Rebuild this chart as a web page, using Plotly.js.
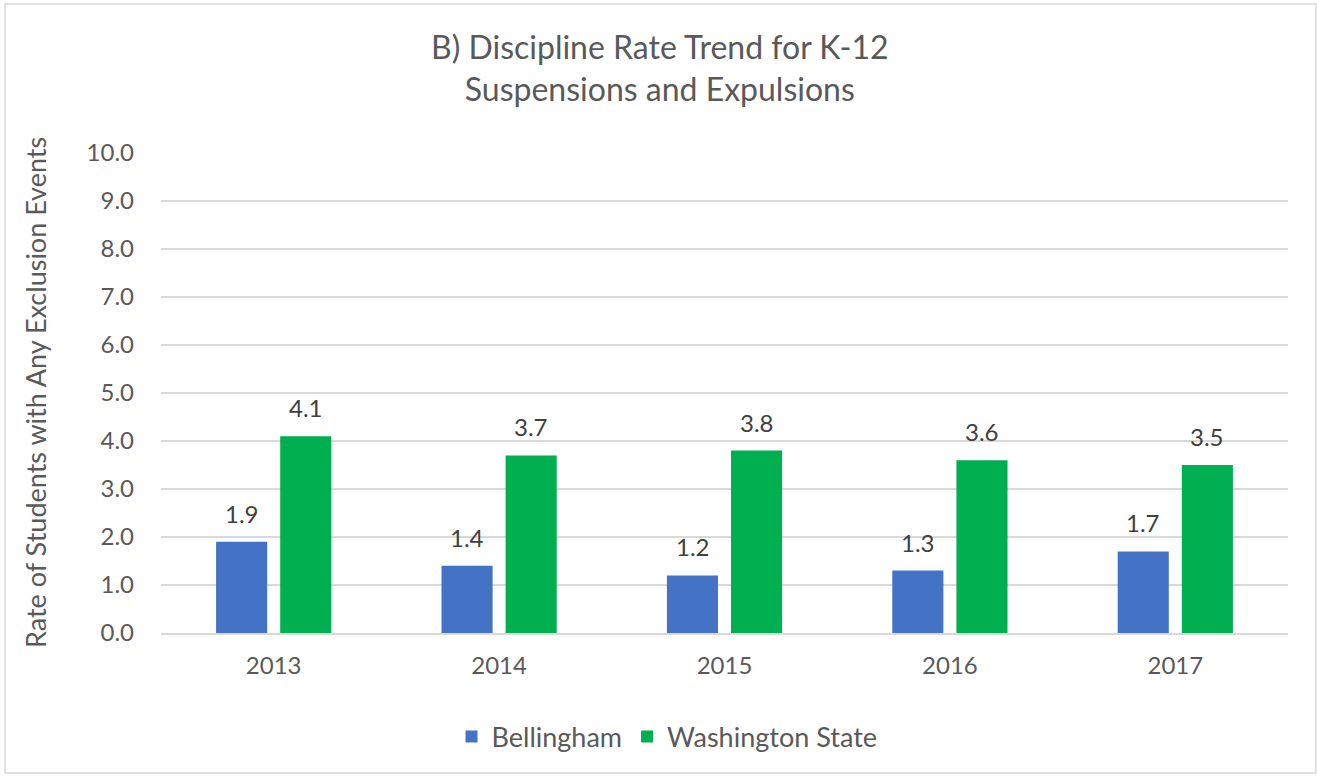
<!DOCTYPE html>
<html>
<head>
<meta charset="utf-8">
<script src="https://cdn.plot.ly/plotly-3.0.1.min.js"></script>
<style>
  html, body { margin: 0; padding: 0; background: #fff; }
  #chart { width: 1317px; height: 776px; }
</style>
</head>
<body>
<div id="chart"></div>
<script>
const years = ['2013', '2014', '2015', '2016', '2017'];
const bellingham = [1.9, 1.4, 1.2, 1.3, 1.7];
const washington = [4.1, 3.7, 3.8, 3.6, 3.5];
const yTicks = [0, 1, 2, 3, 4, 5, 6, 7, 8, 9, 10];

const FONT = 'Lato, "Open Sans", sans-serif';
const LABEL_FONT = { family: FONT, size: 24, color: '#404040' };

const traces = [
  {
    type: 'bar', name: 'Bellingham', x: years, y: bellingham,
    marker: { color: '#4472C4' }, hoverinfo: 'x+y'
  },
  {
    type: 'bar', name: 'Washington State', x: years, y: washington,
    marker: { color: '#00B050' }, hoverinfo: 'x+y'
  }
];

const labelAnn = [];
years.forEach((yr, i) => {
  labelAnn.push({ x: i, y: bellingham[i], text: bellingham[i].toFixed(1), xref: 'x', yref: 'y',
    xshift: -32, yshift: 12, yanchor: 'bottom', xanchor: 'center', showarrow: false, font: LABEL_FONT });
  labelAnn.push({ x: i, y: washington[i], text: washington[i].toFixed(1), xref: 'x', yref: 'y',
    xshift: 32, yshift: 12, yanchor: 'bottom', xanchor: 'center', showarrow: false, font: LABEL_FONT });
});

const layout = {
  width: 1317, height: 776,
  margin: { l: 161, r: 29, t: 153, b: 143 },
  paper_bgcolor: '#ffffff', plot_bgcolor: '#ffffff',
  font: { family: FONT, color: '#595959', size: 24 },
  barmode: 'group', bargap: 0.431, bargroupgap: 0.203,
  title: {
    text: 'B) Discipline Rate Trend for K-12<br>Suspensions and Expulsions',
    font: { family: FONT, size: 32, color: '#595959' },
    x: 0.501, xref: 'container', xanchor: 'center',
    y: 0.924, yref: 'container', yanchor: 'middle'
  },
  xaxis: {
    type: 'category', categoryorder: 'array', categoryarray: years,
    range: [-0.5, years.length - 0.5],
    showgrid: false, showline: true,
    linecolor: '#d9d9d9', linewidth: 1.5, ticks: '',
    tickfont: { family: FONT, size: 24, color: '#595959' },
    ticklabelstandoff: 11, fixedrange: true
  },
  yaxis: {
    range: [0, 10], tickvals: yTicks, ticktext: yTicks.map(v => v.toFixed(1)),
    showgrid: true, gridcolor: '#d9d9d9', gridwidth: 1.5,
    zeroline: false, showline: false, ticks: '',
    tickfont: { family: FONT, size: 24, color: '#595959' },
    ticklabelstandoff: 26, fixedrange: true
  },
  showlegend: true,
  legend: {
    orientation: 'h', x: 0.449, xanchor: 'center', y: -0.2167, yanchor: 'middle',
    font: { family: FONT, size: 27, color: '#595959' }, traceorder: 'normal'
  },
  annotations: [
    {
      text: 'Rate of Students with Any Exclusion Events', textangle: -90,
      xref: 'paper', yref: 'paper', x: -0.1118, y: 0.5,
      xanchor: 'center', yanchor: 'middle', showarrow: false,
      font: { family: FONT, size: 27, color: '#595959' }
    }
  ].concat(labelAnn),
  shapes: [
    {
      type: 'rect', xref: 'paper', yref: 'paper',
      x0: -0.1384, x1: 1.0248, y0: -0.2917, y1: 1.3104,
      line: { color: '#d9d9d9', width: 1.5 }, fillcolor: 'rgba(0,0,0,0)', layer: 'below'
    }
  ]
};

Plotly.newPlot('chart', traces, layout, { displayModeBar: false, staticPlot: true });
</script>
</body>
</html>
